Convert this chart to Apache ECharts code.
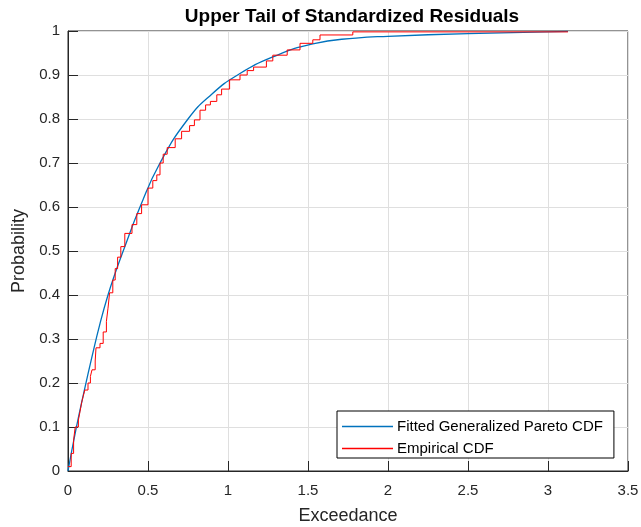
<!DOCTYPE html>
<html>
<head>
<meta charset="utf-8">
<script src="https://cdn.jsdelivr.net/npm/echarts@6/dist/echarts.min.js"></script>
<style>html,body{margin:0;padding:0;background:#fff}#c{width:641px;height:527px}</style>
</head>
<body>
<div id="c"></div>
<script>
var titleText = 'Upper Tail of Standardized Residuals';
var xLabel = 'Exceedance';
var yLabel = 'Probability';
var seriesNames = ['Fitted Generalized Pareto CDF', 'Empirical CDF'];
var xTicks = [0, 0.5, 1, 1.5, 2, 2.5, 3, 3.5];
var yTicks = [0, 0.1, 0.2, 0.3, 0.4, 0.5, 0.6, 0.7, 0.8, 0.9, 1];

// Fitted GP CDF
var fittedX = [0, 0.05, 0.1, 0.15, 0.2, 0.25, 0.3, 0.345, 0.45, 0.575, 0.75, 0.9, 1.06, 1.28, 1.53, 1.8, 2.0, 2.5, 3.125];
var fittedY = [0, 0.095, 0.18, 0.26, 0.335, 0.40, 0.455, 0.50, 0.60, 0.70, 0.80, 0.857, 0.90, 0.941, 0.971, 0.984, 0.988, 0.994, 0.999];

// Empirical CDF steps
var empX = [0, 0.02, 0.035, 0.045, 0.065, 0.075, 0.085, 0.095, 0.105, 0.125, 0.14, 0.15, 0.17, 0.175, 0.2, 0.22, 0.24, 0.25, 0.26, 0.28, 0.295, 0.31, 0.33, 0.355, 0.4, 0.43, 0.46, 0.5, 0.53, 0.555, 0.575, 0.595, 0.62, 0.67, 0.71, 0.76, 0.79, 0.825, 0.86, 0.89, 0.93, 0.96, 1.01, 1.075, 1.12, 1.16, 1.24, 1.28, 1.37, 1.45, 1.53, 1.575, 1.78, 3.125];
var empY = [0.01, 0.04, 0.07, 0.10, 0.116, 0.135, 0.155, 0.17, 0.184, 0.20, 0.215, 0.23, 0.25, 0.28, 0.29, 0.316, 0.34, 0.37, 0.405, 0.434, 0.46, 0.486, 0.51, 0.54, 0.56, 0.585, 0.605, 0.643, 0.66, 0.673, 0.70, 0.72, 0.735, 0.755, 0.772, 0.785, 0.798, 0.82, 0.832, 0.84, 0.855, 0.868, 0.889, 0.90, 0.91, 0.918, 0.932, 0.945, 0.957, 0.972, 0.98, 0.991, 0.998, 0.998];

function zip(a, b) { return a.map(function (v, i) { return [v, b[i]]; }); }

var font = 'Liberation Sans, Arial, Helvetica, sans-serif';
var axisColor = '#262626';
var TL = 5;

function tickAxisX(pos) {
  return {
    type: 'value', position: pos, offset: -TL, min: 0, max: 3.5, interval: 0.5,
    axisLine: {show: false},
    axisTick: {show: true, length: TL, lineStyle: {color: axisColor}},
    axisLabel: {show: false}, splitLine: {show: false}
  };
}
function tickAxisY(pos) {
  return {
    type: 'value', position: pos, offset: -TL, min: 0, max: 1, interval: 0.1,
    axisLine: {show: false},
    axisTick: {show: true, length: TL, lineStyle: {color: axisColor}},
    axisLabel: {show: false}, splitLine: {show: false}
  };
}

var chart = echarts.init(document.getElementById('c'), null, {renderer: 'canvas'});
chart.setOption({
  animation: false,
  backgroundColor: '#fff',
  title: {
    text: titleText, left: 347, top: 2, textAlign: 'center',
    textStyle: {fontFamily: font, fontSize: 19, fontWeight: 'bold', color: '#000'}
  },
  grid: {left: 68, right: 13, top: 31, bottom: 56, containLabel: false, outerBoundsMode: 'none',
    show: true, borderColor: axisColor, borderWidth: 1, backgroundColor: '#fff'},
  legend: {
    orient: 'vertical', left: 337, top: 411,
    data: [{name: seriesNames[0], icon: 'rect'}, {name: seriesNames[1], icon: 'rect'}],
    itemWidth: 51, itemHeight: 1.5, itemGap: 7,
    padding: [8, 11, 2, 5],
    backgroundColor: '#fff', borderColor: '#000', borderWidth: 1,
    textStyle: {fontFamily: font, fontSize: 15, color: '#000', padding: [0, 0, 0, -1]}
  },
  xAxis: [{
    type: 'value', min: 0, max: 3.5, interval: 0.5,
    name: xLabel, nameLocation: 'middle', nameGap: 36,
    nameTextStyle: {fontFamily: font, fontSize: 18, color: axisColor},
    axisLine: {show: true, lineStyle: {color: axisColor}},
    axisTick: {show: false},
    axisLabel: {fontFamily: font, fontSize: 15, color: axisColor, margin: 12,
      formatter: function (v) { return xTicks.indexOf(v) >= 0 ? String(v) : ''; }},
    splitLine: {show: true, lineStyle: {color: '#dfdfdf', width: 1}}
  }, tickAxisX('bottom'), tickAxisX('top')],
  yAxis: [{
    type: 'value', min: 0, max: 1, interval: 0.1,
    name: yLabel, nameLocation: 'middle', nameGap: 38, nameRotate: 90,
    nameTextStyle: {fontFamily: font, fontSize: 18, color: axisColor},
    axisLine: {show: true, lineStyle: {color: axisColor}},
    axisTick: {show: false},
    axisLabel: {fontFamily: font, fontSize: 15, color: axisColor, margin: 8,
      formatter: function (v) { var r = Math.round(v * 10) / 10; return yTicks.indexOf(r) >= 0 ? String(r) : ''; }},
    splitLine: {show: true, lineStyle: {color: '#dfdfdf', width: 1}}
  }, tickAxisY('left'), tickAxisY('right')],
  series: [{
    name: seriesNames[0], type: 'line', smooth: true, symbol: 'none',
    data: zip(fittedX, fittedY),
    lineStyle: {color: '#0072BD', width: 1.3}, itemStyle: {color: '#0072BD'}
  }, {
    name: seriesNames[1], type: 'line', step: 'end', symbol: 'none',
    data: zip(empX, empY),
    lineStyle: {color: '#FF0000', width: 1}, itemStyle: {color: '#FF0000'}
  }]
});
</script>
</body>
</html>
